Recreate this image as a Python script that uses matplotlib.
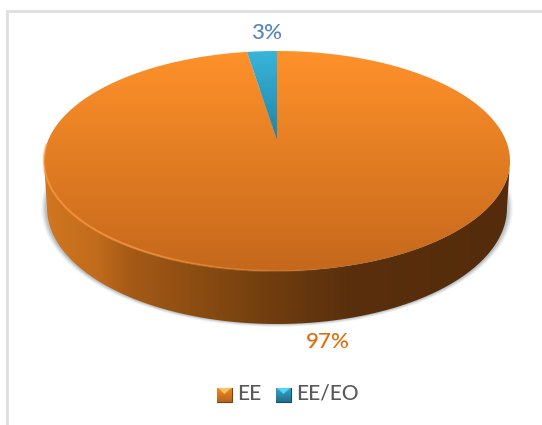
import numpy as np
import matplotlib
matplotlib.use("Agg")
import matplotlib.pyplot as plt
from matplotlib.colors import LinearSegmentedColormap
from matplotlib.patches import Polygon, Ellipse
from matplotlib.collections import LineCollection

# Data
categories = ['EE', 'EE/EO']
shares = [97, 3]
labels = ['97%', '3%']

# Disc geometry in pixels
cx, cy = 277, 161
rx, ry = 233, 110
base_cy, base_rx, base_ry = 208, 230, 116   # lower rim of the wall, a bit smaller in perspective
apex_y = 140
back_squash = 0.685   # the far edge of the tilted disc is foreshortened

plt.rcParams['font.family'] = ['Lato', 'DejaVu Sans']

fig = plt.figure(figsize=(5.42, 4.25), dpi=100)
ax = fig.add_axes([0, 0, 1, 1])
ax.set_xlim(0, 542)
ax.set_ylim(425, 0)
ax.axis('off')

# Thin frame, open on the right and bottom
ax.plot([7, 7, 542], [425, 11, 11], color='#dedede', lw=2, solid_joinstyle='miter')


def rim(phi):
    # phi runs from 12 o'clock, positive clockwise
    return cx + rx * np.sin(phi), cy - ry * np.cos(phi)


def shade(clip, extent, stops, vertical=True):
    cmap = LinearSegmentedColormap.from_list('s', stops)
    g = np.linspace(0, 1, 256)
    g = g[:, None] if vertical else g[None, :]
    im = ax.imshow(g, cmap=cmap, extent=extent, aspect='auto', zorder=clip.get_zorder())
    clip.set_visible(False)
    ax.add_patch(clip)
    im.set_clip_path(clip)
    return im


# Soft shadow under the side wall, wider at the sides than at the front
for grow, alpha in [(5, 0.05), (4, 0.07), (3, 0.09), (2, 0.12), (1, 0.15)]:
    ax.add_patch(Ellipse((cx, base_cy), 2 * (base_rx + grow + 1), 2 * (base_ry + grow * 0.6),
                         color='#5a6a78', alpha=alpha, lw=0, zorder=1))

# Side wall
t = np.linspace(np.pi / 2, 3 * np.pi / 2, 200)
xs, ys = rim(t)
xb = cx + base_rx * np.sin(t)
yb = base_cy - base_ry * np.cos(t)
wall = np.column_stack([np.r_[xs, xb[::-1]], np.r_[ys, yb[::-1]]])
shade(Polygon(wall, closed=True, zorder=2), (cx + rx, cx - rx, base_cy + base_ry, cy),
      [(0, '#552c0b'), (0.34, '#592f0d'), (0.5, '#6e3c0f'), (0.665, '#8a4c12'),
       (0.815, '#a55a16'), (0.888, '#c06c1c'), (1, '#d27620')], vertical=False)

# Top face: the back slice is cut from 12 o'clock going anticlockwise
sweep = np.deg2rad(360 * shares[1] / sum(shares)) * back_squash
t = np.linspace(0, 2 * np.pi - sweep, 500)
x, y = rim(t)
big = np.column_stack([np.r_[cx, x], np.r_[apex_y, y]])
shade(Polygon(big, closed=True, zorder=3), (cx - rx, cx + rx, cy + ry, cy - ry),
      [(0, '#ff912a'), (1, '#c5681c')])

t = np.linspace(-sweep, 0, 30)
x, y = rim(t)
small = np.column_stack([np.r_[cx, x], np.r_[apex_y, y]])
shade(Polygon(small, closed=True, zorder=3), (cx - 30, cx, apex_y, cy - ry),
      [(0, '#38b5da'), (1, '#2184a5')])

# Bevel highlight along the front edge of the disc
t = np.linspace(np.pi * 0.9, np.pi * 1.55, 200)
x, y = rim(t)
pts = np.column_stack([x, y])
segs = np.stack([pts[:-1], pts[1:]], axis=1)
fade = np.clip((t[:-1] - np.pi * 0.9) / (np.pi * 0.3), 0, 1)
cols = np.zeros((len(segs), 4))
cols[:, :3] = matplotlib.colors.to_rgb('#ff9a40')
cols[:, 3] = fade * 0.7
ax.add_collection(LineCollection(segs, colors=cols, lw=1.6, zorder=4))

# Value labels
ax.text(267, 32.5, labels[1], color='#5585bd', fontsize=16, fontweight='medium',
        ha='center', va='center', zorder=5)
ax.text(328, 341.5, labels[0], color='#e36c0a', fontsize=16, fontweight='medium',
        ha='center', va='center', zorder=5)

# Legend
key_x = [217, 276]
key_stops = [[(0, '#ef8a28'), (1, '#b5641c')], [(0, '#3aa5c8'), (1, '#1f6f8c')]]
key_tip = ['#ffc25e', '#4fd8f5']
key_edge = ['#7a430f', '#174f64']
for i, name in enumerate(categories):
    kx = key_x[i]
    sq = Polygon([(kx, 388), (kx + 15, 388), (kx + 15, 402), (kx, 402)], closed=True, zorder=5)
    shade(sq, (kx, kx + 15, 402, 388), key_stops[i])
    ax.add_patch(Polygon([(kx + 1, 388), (kx + 14, 388), (kx + 7.5, 394)], closed=True,
                         facecolor=key_tip[i], edgecolor='none', zorder=6))
    ax.plot([kx + 14.6, kx + 14.6, kx], [388, 401.6, 401.6], color=key_edge[i], lw=0.8, zorder=6)
    ax.text(kx + 20, 394, name, color='#595959', fontsize=15, fontweight='medium',
            ha='left', va='center', zorder=5)

fig.savefig('out.png', dpi=100)
